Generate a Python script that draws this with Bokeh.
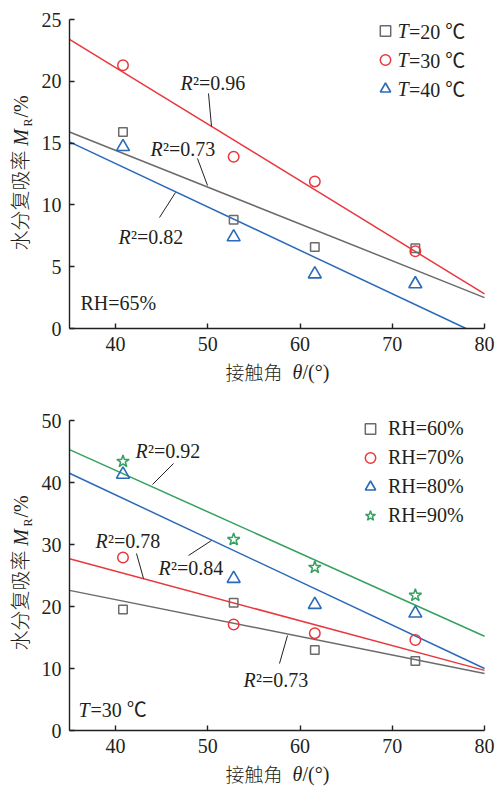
import math
from bokeh.plotting import figure
from bokeh.models import Range1d, Label, Legend, LegendItem, FixedTicker
from bokeh.layouts import column
from bokeh.embed import file_html
from bokeh.resources import INLINE

# ---------------- data ----------------
angles = [40.8, 52.8, 61.6, 72.5]           # contact angle (deg)
fit_x = [35, 80]

# panel (a): RH = 65 %
temp_labels = ["T=20 ℃", "T=30 ℃", "T=40 ℃"]
mr_t20 = [15.9, 8.8, 6.6, 6.5]
mr_t30 = [21.3, 13.9, 11.9, 6.25]
mr_t40 = [14.7, 7.4, 4.4, 3.6]
fit_t20 = [15.9, 2.5]
fit_t30 = [23.4, 2.8]
fit_x_t40 = [35, 78.0]
fit_t40 = [15.1, 0.0]
r2_temp = ["0.73", "0.96", "0.82"]

# panel (b): T = 30 ℃
rh_labels = ["RH=60%", "RH=70%", "RH=80%", "RH=90%"]
mr_rh60 = [19.5, 20.6, 13.0, 11.2]
mr_rh70 = [27.9, 17.1, 15.7, 14.6]
mr_rh80 = [41.3, 24.5, 20.3, 18.9]
mr_rh90 = [43.4, 30.8, 26.3, 21.8]
fit_rh60 = [22.6, 9.2]
fit_rh70 = [27.7, 9.7]
fit_rh80 = [41.5, 10.0]
fit_rh90 = [45.3, 15.2]
r2_rh = ["0.73", "0.78", "0.84", "0.92"]

x_ticks = [40, 50, 60, 70, 80]
y_ticks_a = [0, 5, 10, 15, 20, 25]
y_ticks_b = [0, 10, 20, 30, 40, 50]

# ---------------- style ----------------
INK = "#231f20"
GRAY = "#6b6b6b"
RED = "#e8383d"
BLUE = "#2a6ab8"
GREEN = "#35a060"
SERIF = "Liberation Serif, Noto Sans CJK SC"
CJK = "Noto Sans CJK SC Light, Noto Sans CJK SC DemiLight, Noto Sans CJK SC"

W = 495
FL, FR = 69, 484          # pixel position of the axes box left/right


def make_fig(ymax, yticks, height, top, frame_h, page_off):
    # whole canvas is the plotting area; the axes are pinned at x=35 / y=0
    ppx = (FR - FL) / 45.0
    x0 = 35 - FL / ppx
    x1 = 80 + (W - FR) / ppx
    ppy = frame_h / float(ymax)
    y1 = ymax + top / ppy
    y0 = -(height - top - frame_h) / ppy
    p = figure(width=W, height=height, x_range=Range1d(x0, x1), y_range=Range1d(y0, y1),
               output_backend="svg", toolbar_location=None,
               min_border_left=0, min_border_right=0, min_border_top=0, min_border_bottom=0)
    p.title.visible = False
    p.outline_line_color = None
    p.grid.visible = False
    p.background_fill_color = "white"
    p.border_fill_color = "white"
    for ax in (p.xaxis[0], p.yaxis[0]):
        ax.axis_line_color = INK
        ax.axis_line_width = 1.4
        ax.major_tick_line_color = INK
        ax.major_tick_line_width = 1.4
        ax.major_tick_in = 5
        ax.major_tick_out = 0
        ax.minor_tick_line_color = None
        ax.major_label_text_font = SERIF
        ax.major_label_text_font_size = "20px"
        ax.major_label_text_color = INK
        ax.major_label_standoff = 8
    p.xaxis[0].ticker = FixedTicker(ticks=x_ticks)
    p.yaxis[0].ticker = FixedTicker(ticks=yticks)
    p.xaxis[0].fixed_location = 0
    p.xaxis[0].bounds = (35, 80)
    p.yaxis[0].fixed_location = 35
    p.yaxis[0].bounds = (0, ymax)
    info = dict(x0=x0, x1=x1, y0=y0, y1=y1, off=page_off, h=height)
    return p, info


def to_data(info, px, py):
    x = info["x0"] + px * (info["x1"] - info["x0"]) / W
    y = info["y1"] - (py - info["off"]) * (info["y1"] - info["y0"]) / info["h"]
    return x, y


def txt(p, info, px, py, s, font=SERIF, size="20px", style="normal", align="left", angle=0.0):
    x, y = to_data(info, px, py)
    p.add_layout(Label(x=x, y=y, text=s, text_font=font, text_font_size=size,
                       text_font_style=style, text_align=align, text_baseline="middle",
                       angle=angle, text_color=INK))


def r2(p, info, px, py, val):
    txt(p, info, px, py, "R", style="italic")
    txt(p, info, px + 12.5, py, "²=" + val)


def leader(p, info, a, b):
    x0, y0 = to_data(info, *a)
    x1, y1 = to_data(info, *b)
    p.segment(x0=[x0], y0=[y0], x1=[x1], y1=[y1], line_color=INK, line_width=1)


def axis_titles(p, info, dy, frame_bottom):
    ang = math.pi / 2
    txt(p, info, 19, 200 + dy, "水分复吸率", font=CJK, size="20px", align="center", angle=ang)
    txt(p, info, 20, 137 + dy, "M", style="italic", align="center", angle=ang)
    txt(p, info, 27, 122 + dy, "R", size="12px", align="center", angle=ang)
    txt(p, info, 20, 106 + dy, "/%", align="center", angle=ang)
    yb = frame_bottom + 43
    txt(p, info, 225, yb, "接触角", font=CJK, size="19px")
    txt(p, info, 292, yb, "θ", style="italic")
    txt(p, info, 302, yb, "/(°)")


def legend(items, loc, standoff):
    return Legend(items=items, location=loc, label_text_font=SERIF, label_text_font_size="20px",
                  label_text_color=INK, glyph_width=26, glyph_height=29, label_height=29,
                  label_standoff=standoff, spacing=0, padding=0, margin=0,
                  border_line_color=None, background_fill_alpha=0)


# ---------------- panel (a) ----------------
p1, i1 = make_fig(25, y_ticks_a, 395, 19, 309, 0)
p1.line(fit_x, fit_t20, line_color=GRAY, line_width=1.5)
p1.line(fit_x, fit_t30, line_color=RED, line_width=1.5)
p1.line(fit_x_t40, fit_t40, line_color=BLUE, line_width=1.5)
s20 = p1.scatter(angles, mr_t20, marker="square", size=8.5, fill_color=None, line_color=GRAY, line_width=1.5)
s30 = p1.scatter(angles, mr_t30, marker="circle", size=10.5, fill_color=None, line_color=RED, line_width=1.5)
s40 = p1.scatter(angles, mr_t40, marker="triangle", size=13, fill_color=None, line_color=BLUE, line_width=1.6)

# legend: keys + "=20 ℃" part from Bokeh's Legend, the italic "T" set alongside
p1.add_layout(legend([LegendItem(label=temp_labels[0][1:], renderers=[s20]),
                      LegendItem(label=temp_labels[1][1:], renderers=[s30]),
                      LegendItem(label=temp_labels[2][1:], renderers=[s40])], (372, 292.5), 11))
for k, lab in enumerate(temp_labels):
    txt(p1, i1, 397, 30 + 29 * k, lab[0], style="italic")

r2(p1, i1, 180, 82, r2_temp[1])
leader(p1, i1, (208, 93), (211, 126))
r2(p1, i1, 150, 148, r2_temp[0])
leader(p1, i1, (197, 158), (207, 185))
r2(p1, i1, 118, 236, r2_temp[2])
leader(p1, i1, (159, 217), (175, 192))
txt(p1, i1, 80, 302, "RH=65%")
axis_titles(p1, i1, 0, 328)

# ---------------- panel (b) ----------------
p2, i2 = make_fig(50, y_ticks_b, 392, 25, 310, 395)
p2.line(fit_x, fit_rh60, line_color=GRAY, line_width=1.5)
p2.line(fit_x, fit_rh70, line_color=RED, line_width=1.5)
p2.line(fit_x, fit_rh80, line_color=BLUE, line_width=1.5)
p2.line(fit_x, fit_rh90, line_color=GREEN, line_width=1.5)
q60 = p2.scatter(angles, mr_rh60, marker="square", size=8.5, fill_color=None, line_color=GRAY, line_width=1.5)
q70 = p2.scatter(angles, mr_rh70, marker="circle", size=10.5, fill_color=None, line_color=RED, line_width=1.5)
q80 = p2.scatter(angles, mr_rh80, marker="triangle", size=13, fill_color=None, line_color=BLUE, line_width=1.6)
q90 = p2.scatter(angles, mr_rh90, marker="star", size=13, fill_color=None, line_color=GREEN, line_width=1.5)

p2.add_layout(legend([LegendItem(label=rh_labels[0], renderers=[q60]),
                      LegendItem(label=rh_labels[1], renderers=[q70]),
                      LegendItem(label=rh_labels[2], renderers=[q80]),
                      LegendItem(label=rh_labels[3], renderers=[q90])], (357, 257.5), 5))

r2(p2, i2, 135, 450, r2_rh[3])
leader(p2, i2, (173, 463), (152, 484))
r2(p2, i2, 158, 567, r2_rh[2])
leader(p2, i2, (188, 555), (211, 540))
r2(p2, i2, 95, 540, r2_rh[1])
leader(p2, i2, (136, 553), (143, 578))
r2(p2, i2, 243, 679, r2_rh[0])
leader(p2, i2, (279, 663), (287, 635))
txt(p2, i2, 78, 709, "T", style="italic")
txt(p2, i2, 90, 709, "=30 ℃")
axis_titles(p2, i2, 400, 730)

layout = column(p1, p2, spacing=0)
open("out.html", "w").write(file_html(layout, INLINE))
